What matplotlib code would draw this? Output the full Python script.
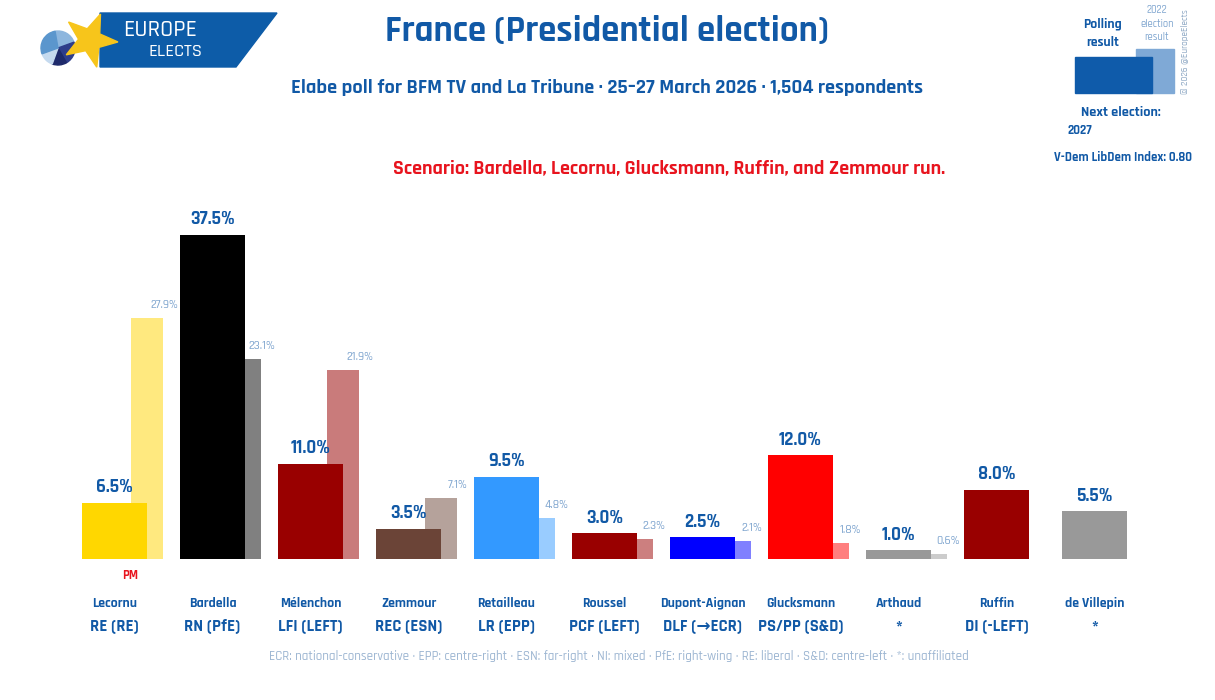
import matplotlib
matplotlib.use("Agg")
import matplotlib.pyplot as plt
from matplotlib.patches import Polygon, Rectangle, Wedge
import numpy as np

# ---------------- data ----------------
candidates = ["Lecornu", "Bardella", "Mélenchon", "Zemmour", "Retailleau", "Roussel",
              "Dupont-Aignan", "Glucksmann", "Arthaud", "Ruffin", "de Villepin"]
parties = ["RE (RE)", "RN (PfE)", "LFI (LEFT)", "REC (ESN)", "LR (EPP)", "PCF (LEFT)",
           "DLF (→ECR)", "PS/PP (S&D)", "*", "DI (-LEFT)", "*"]
poll = [6.5, 37.5, 11.0, 3.5, 9.5, 3.0, 2.5, 12.0, 1.0, 8.0, 5.5]
prev = [27.9, 23.1, 21.9, 7.1, 4.8, 2.3, 2.1, 1.8, 0.6, None, None]
colors = ["#FFD700", "#000000", "#990000", "#6B4437", "#3399FF", "#990000",
          "#0000FF", "#FF0000", "#999999", "#990000", "#999999"]
prev_colors = ["#FFE97F", "#808080", "#C97B7B", "#B5A29B", "#99CCFF", "#CC7F7F",
               "#8080FF", "#FF7F7F", "#CCCCCC", None, None]

FONT = ["Rajdhani", "DejaVu Sans"]
BLUE = "#1159A6"
LIGHT = "#7FA5CF"

W, H = 1215, 700
fig = plt.figure(figsize=(W / 100, H / 100), dpi=100)
renderer = fig.canvas.get_renderer()


def fit(t, target, axis="w"):
    """scale font so the text's rendered width (or height) matches target px"""
    bb = t.get_window_extent(renderer=renderer)
    cur = bb.width if axis == "w" else bb.height
    if cur > 0:
        t.set_fontsize(t.get_fontsize() * target / cur)
    return t.get_fontsize()


def size_for(text, target, weight="bold", axis="w"):
    t = fig.text(0, 0, text, fontsize=10, fontweight=weight, family=FONT)
    s = fit(t, target, axis)
    t.remove()
    return s


# main axes: 1 group unit = 98 px, 1 % = 8.64 px, baseline at y=559 px
PX_X = 98.0
PX_Y = 8.64
ax = fig.add_axes([0, 0, 1, 1])
x0 = -82 / PX_X
ax.set_xlim(x0, x0 + W / PX_X)
y0 = -(H - 559) / PX_Y
ax.set_ylim(y0, y0 + H / PX_Y)
ax.axis("off")

MAIN_W = 65 / PX_X
PREV_OFF = 49 / PX_X
PREV_W = 32 / PX_X

fs_val = size_for("37.5%", 45)
fs_prev = size_for("27.9%", 28, weight="medium")
fs_name = size_for("Dupont-Aignan", 86)
fs_party = size_for("PS/PP (S&D)", 85)

xs = np.arange(len(candidates))
for i in xs:
    if prev[i] is not None:
        ax.bar(i + PREV_OFF, prev[i], width=PREV_W, align="edge", color=prev_colors[i], zorder=1)
        ax.text(i + PREV_OFF + PREV_W + 0.01, prev[i] + 13 / PX_Y, f"{prev[i]:.1f}%",
                ha="center", va="center", fontsize=fs_prev, style="italic", fontweight="medium",
                color=LIGHT, family=FONT, zorder=4)
    ax.bar(i, poll[i], width=MAIN_W, align="edge", color=colors[i], zorder=2)
    ax.text(i + MAIN_W / 2, poll[i] + 16 / PX_Y, f"{poll[i]:.1f}%",
            ha="center", va="center", fontsize=fs_val, fontweight="bold", color=BLUE,
            family=FONT, zorder=5)
    ax.text(i + MAIN_W / 2, -(603 - 559) / PX_Y, candidates[i], ha="center", va="center",
            fontsize=fs_name, fontweight="bold", color=BLUE, family=FONT)
    ax.text(i + MAIN_W / 2, -(626 - 559) / PX_Y, parties[i], ha="center", va="center",
            fontsize=fs_party, fontweight="bold", color=BLUE, family=FONT)

# PM marker
ax.text(0 + 48 / PX_X, -(575 - 559) / PX_Y, "PM", ha="center", va="center",
        fontsize=size_for("PM", 16), fontweight="bold", color="#E8141E", family=FONT)

# ---------------- overlay (pixel coords) ----------------
ov = fig.add_axes([0, 0, 1, 1])
ov.set_xlim(0, W)
ov.set_ylim(H, 0)
ov.axis("off")
ov.patch.set_alpha(0)


def otext(x, y, s, target, weight="bold", color=BLUE, **kw):
    t = ov.text(x, y, s, ha=kw.pop("ha", "center"), va="center", fontsize=10,
                fontweight=weight, color=color, family=FONT, **kw)
    fit(t, target)
    return t


otext(607, 30, "France (Presidential election)", 443)
otext(607, 88, "Elabe poll for BFM TV and La Tribune · 25–27 March 2026 · 1,504 respondents", 629)
otext(669, 168, "Scenario: Bardella, Lecornu, Glucksmann, Ruffin, and Zemmour run.", 553,
      color="#E8141E")
otext(619, 656, "ECR: national-conservative · EPP: centre-right · ESN: far-right · NI: mixed · "
      "PfE: right-wing · RE: liberal · S&D: centre-left · *: unaffiliated", 698,
      weight="medium", color="#9DB6D2")

# logo
ov.add_patch(Polygon([(100, 13), (277, 13), (236, 67), (100, 67)], closed=True,
                     color="#0D5CA8", zorder=1))
cx, cy, r = 58, 48, 17
pie = [(-100, -20, "#8DB6DE"), (-20, 60, "#2E3D8A"), (60, 110, "#1E2A6B"),
       (110, 160, "#C5DAEF"), (160, 260, "#5B96CD")]
for a1, a2, c in pie:
    ov.add_patch(Wedge((cx, cy), r, a1, a2, color=c, zorder=2))
sx, sy, R, rr = 90, 40, 28, 11.5
pts = []
for k in range(10):
    ang = np.deg2rad(-68 + k * 36)
    rad = R if k % 2 == 0 else rr
    pts.append((sx + rad * np.cos(ang), sy + rad * np.sin(ang)))
ov.add_patch(Polygon(pts, closed=True, color="#F7C51B", zorder=3))
t = otext(160, 29, "EUROPE", 74, weight="medium", color="white")
t.set_zorder(4)
t = otext(176, 52, "ELECTS", 54, weight="medium", color="white")
t.set_zorder(4)

# legend top-right
ov.add_patch(Rectangle((1136, 49), 38, 44, color="#7FA9D6", zorder=1))
ov.add_patch(Rectangle((1075, 57), 77, 36, color="#0F5BAA", zorder=2))
otext(1103, 24, "Polling", 39)
fsl = ov.texts[-1].get_fontsize()
ov.text(1103, 42, "result", ha="center", va="center", fontsize=fsl, fontweight="bold",
        color=BLUE, family=FONT)
otext(1157, 10, "2022", 21, weight="medium", color=LIGHT, style="italic")
fse = ov.texts[-1].get_fontsize()
for yy, s in [(24, "election"), (37, "result")]:
    ov.text(1157, yy, s, ha="center", va="center", fontsize=fse, style="italic",
            fontweight="medium", color=LIGHT, family=FONT)
tc = ov.text(1185, 52, "© 2026 @EuropeElects", ha="center", va="center", fontsize=8,
             rotation=90, color="#8FA9C5", family=FONT, fontweight="medium")
fit(tc, 85, axis="h")
otext(1121, 112, "Next election:", 79)
otext(1080, 130, "2027", 25)
otext(1123, 157, "V-Dem LibDem Index: 0.80", 137)

fig.savefig("out.png", dpi=100)
